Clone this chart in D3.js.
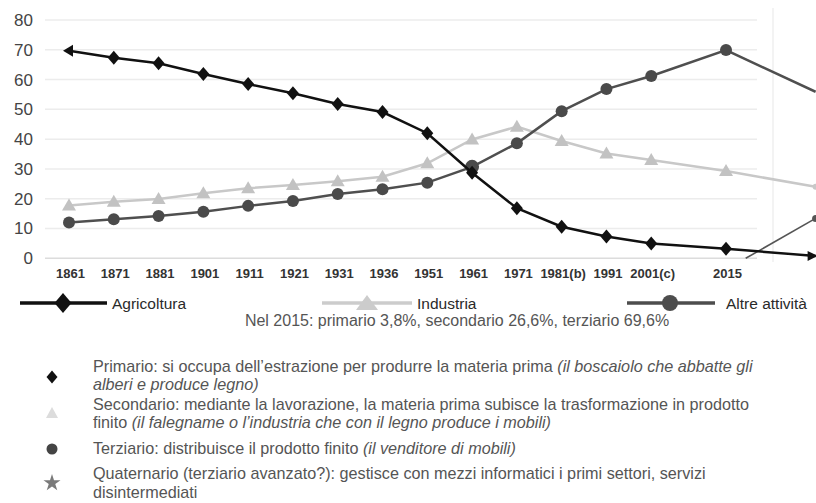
<!DOCTYPE html>
<html>
<head>
<meta charset="utf-8">
<script src="https://cdn.jsdelivr.net/npm/d3@7"></script>
<style>
  html, body { margin: 0; padding: 0; background: #fff; }
  svg { display: block; font-family: "Liberation Sans", Arial, sans-serif; }
</style>
</head>
<body>
<svg id="chart" width="816" height="503"></svg>
<script>
// Census years on the category axis; 2015 sits on a wider gap after 2001(c)
const years = ["1861", "1871", "1881", "1901", "1911", "1921", "1931", "1936", "1951", "1961", "1971", "1981(b)", "1991", "2001(c)", "2015"];
const yearSlots = [0, 1, 2, 3, 4, 5, 6, 7, 8, 9, 10, 11, 12, 13, 14.67];

// Share of workforce by sector (%)
const agricoltura = [69.7, 67.3, 65.5, 61.9, 58.5, 55.4, 51.8, 49.1, 42.0, 28.7, 16.8, 10.6, 7.3, 5.0, 3.2];
const industria   = [17.7, 19.0, 19.9, 21.8, 23.5, 24.6, 25.9, 27.4, 31.9, 39.9, 44.2, 39.4, 35.2, 33.0, 29.3];
const altre       = [12.0, 13.1, 14.2, 15.6, 17.6, 19.2, 21.6, 23.2, 25.4, 30.7, 38.6, 49.4, 56.8, 61.2, 69.9];

// Trend continuation drawn past 2015 (slot, value)
const trendSlot = 16.67;
const agricolturaTrend = 0.8;
const industriaTrend = 24.0;
const altreTrend = 55.9;
const quaternarioTrend = [[15.11, 0], [16.67, 13.4]];

const yTicks = [0, 10, 20, 30, 40, 50, 60, 70, 80];

const legendItems = ["Agricoltura", "Industria", "Altre attività"];
const subtitle = "Nel 2015: primario 3,8%, secondario 26,6%, terziario 69,6%";

const notes = [
  { key: "primario", lines: [
      [["Primario: si occupa dell’estrazione per produrre la materia prima ", false], ["(il boscaiolo che abbatte gli", true]],
      [["alberi e produce legno)", true]] ] },
  { key: "secondario", lines: [
      [["Secondario: mediante la lavorazione, la materia prima subisce la trasformazione in prodotto", false]],
      [["finito ", false], ["(il falegname o l’industria che con il legno produce i mobili)", true]] ] },
  { key: "terziario", lines: [
      [["Terziario: distribuisce il prodotto finito ", false], ["(il venditore di mobili)", true]] ] },
  { key: "quaternario", lines: [
      [["Quaternario (terziario avanzato?): gestisce con mezzi informatici i primi settori, servizi", false]],
      [["disintermediati", false]] ] }
];

const svg = d3.select("#chart");
svg.append("rect").attr("width", 816).attr("height", 503).attr("fill", "#fff");

const x = d3.scaleLinear().domain([0, 16.67]).range([69, 815.6]);
const y = d3.scaleLinear().domain([0, 80]).range([258.3, 20]);

// marker shapes
const diamond = "M0,-7L6,0L0,7L-6,0Z";
const triangle = "M0,-7L7,5L-7,5Z";
const leftArrow = "M-6,0L4,-6L4,6Z";
const rightArrow = "M7,0L-3,-5L-3,5Z";

// grid
const grid = svg.append("g");
grid.selectAll("line").data(yTicks).join("line")
  .attr("x1", 45).attr("x2", 757)
  .attr("y1", d => y(d)).attr("y2", d => y(d))
  .attr("stroke", d => d === 0 ? "#dcdcdc" : "#ececec")
  .attr("stroke-width", 1.5);
svg.append("line").attr("x1", 773).attr("x2", 773).attr("y1", 8).attr("y2", 262)
  .attr("stroke", "#efefef").attr("stroke-width", 1.5);

// y axis labels
const yAxis = svg.append("g").attr("transform", "translate(33,0)")
  .call(d3.axisLeft(y).tickValues(yTicks).tickSize(0).tickPadding(0));
yAxis.select(".domain").remove();
yAxis.selectAll("text").attr("font-size", 17).attr("fill", "#444")
  .attr("font-family", "Liberation Sans, Arial, sans-serif");

// x axis labels
const xAxis = svg.append("g").attr("transform", "translate(1,266)")
  .call(d3.axisBottom(x).tickValues(yearSlots).tickFormat((d, i) => years[i]).tickSize(0).tickPadding(3));
xAxis.select(".domain").remove();
xAxis.selectAll("text").attr("font-size", 13).attr("font-weight", "bold").attr("fill", "#333")
  .attr("font-family", "Liberation Sans, Arial, sans-serif");

const line = d3.line().x(d => x(d[0])).y(d => y(d[1]));
const pts = vals => vals.map((v, i) => [yearSlots[i], v]);

// Quaternario trend
svg.append("path").attr("d", line(quaternarioTrend))
  .attr("fill", "none").attr("stroke", "#555").attr("stroke-width", 1.6);
svg.append("circle").attr("cx", x(quaternarioTrend[1][0])).attr("cy", y(quaternarioTrend[1][1]))
  .attr("r", 3.5).attr("fill", "#555");

// Industria
const indPts = pts(industria);
svg.append("path").attr("d", line(indPts.concat([[trendSlot, industriaTrend]])))
  .attr("fill", "none").attr("stroke", "#c8c8c8").attr("stroke-width", 2.5);
svg.append("g").selectAll("path").data(indPts).join("path")
  .attr("transform", d => `translate(${x(d[0])},${y(d[1])})`)
  .attr("d", triangle).attr("fill", "#c2c2c2");
svg.append("circle").attr("cx", x(trendSlot)).attr("cy", y(industriaTrend)).attr("r", 3).attr("fill", "#c8c8c8");

// Altre attività
const altPts = pts(altre);
svg.append("path").attr("d", line(altPts.concat([[trendSlot, altreTrend]])))
  .attr("fill", "none").attr("stroke", "#4f4f4f").attr("stroke-width", 2.5);
svg.append("g").selectAll("circle").data(altPts).join("circle")
  .attr("cx", d => x(d[0])).attr("cy", d => y(d[1]))
  .attr("r", (d, i) => i === 9 ? 7 : 6)
  .attr("fill", "#4a4a4a");

// Agricoltura
const agrPts = pts(agricoltura);
svg.append("path").attr("d", line(agrPts.concat([[trendSlot, agricolturaTrend]])))
  .attr("fill", "none").attr("stroke", "#111").attr("stroke-width", 2.5);
svg.append("g").selectAll("path").data(agrPts).join("path")
  .attr("transform", d => `translate(${x(d[0])},${y(d[1])})`)
  .attr("d", (d, i) => i === 0 ? leftArrow : diamond)
  .attr("fill", "#111");
svg.append("path").attr("transform", `translate(${x(trendSlot) - 5},${y(agricolturaTrend)})`)
  .attr("d", rightArrow).attr("fill", "#111");

// legend
const legend = [
  { name: legendItems[0], x1: 20, x2: 107, mx: 63, color: "#111", shape: "M0,-10L8.5,0L0,10L-8.5,0Z", tx: 112 },
  { name: legendItems[1], x1: 322, x2: 412, mx: 367, color: "#cccccc", shape: "M0,-8L11,7L-11,7Z", tx: 417 },
  { name: legendItems[2], x1: 627, x2: 715, mx: 670, color: "#4d4d4d", shape: null, tx: 726 }
];
const lg = svg.append("g").attr("transform", "translate(0,303)");
legend.forEach(d => {
  lg.append("line").attr("x1", d.x1).attr("x2", d.x2).attr("stroke", d.color).attr("stroke-width", 3.5);
  if (d.shape) lg.append("path").attr("d", d.shape).attr("transform", `translate(${d.mx},0)`).attr("fill", d.color);
  else lg.append("circle").attr("cx", d.mx).attr("r", 8).attr("fill", d.color);
  lg.append("text").attr("x", d.tx).attr("y", 5.5).attr("font-size", 15.5).attr("fill", "#2a2a2a").text(d.name);
});

svg.append("text").attr("x", 457).attr("y", 326).attr("text-anchor", "middle")
  .attr("font-size", 16).attr("fill", "#555").text(subtitle);

// sector notes
const noteGroup = svg.append("g");
const baselines = [[372, 390], [410, 428], [454], [479, 498]];
const markerY = [377, 413, 449, 483];
const star = d3.symbol().type(d3.symbolStar).size(90)();
const markers = [
  { d: "M0,-6.5L5.5,0L0,6.5L-5.5,0Z", fill: "#111" },
  { d: "M0,-6L6,5L-6,5Z", fill: "#dcdcdc" },
  { circle: true, fill: "#444" },
  { d: star, fill: "#7a7a7a" }
];
notes.forEach((n, i) => {
  const m = markers[i];
  if (m.circle) noteGroup.append("circle").attr("cx", 52).attr("cy", markerY[i]).attr("r", 5.5).attr("fill", m.fill);
  else noteGroup.append("path").attr("d", m.d).attr("transform", `translate(52,${markerY[i]})`).attr("fill", m.fill);
  n.lines.forEach((ln, j) => {
    const t = noteGroup.append("text").attr("x", 93).attr("y", baselines[i][j])
      .attr("font-size", 16.2).attr("fill", "#555");
    ln.forEach(([s, it]) => t.append("tspan").attr("font-style", it ? "italic" : null).text(s));
  });
});
</script>
</body>
</html>
